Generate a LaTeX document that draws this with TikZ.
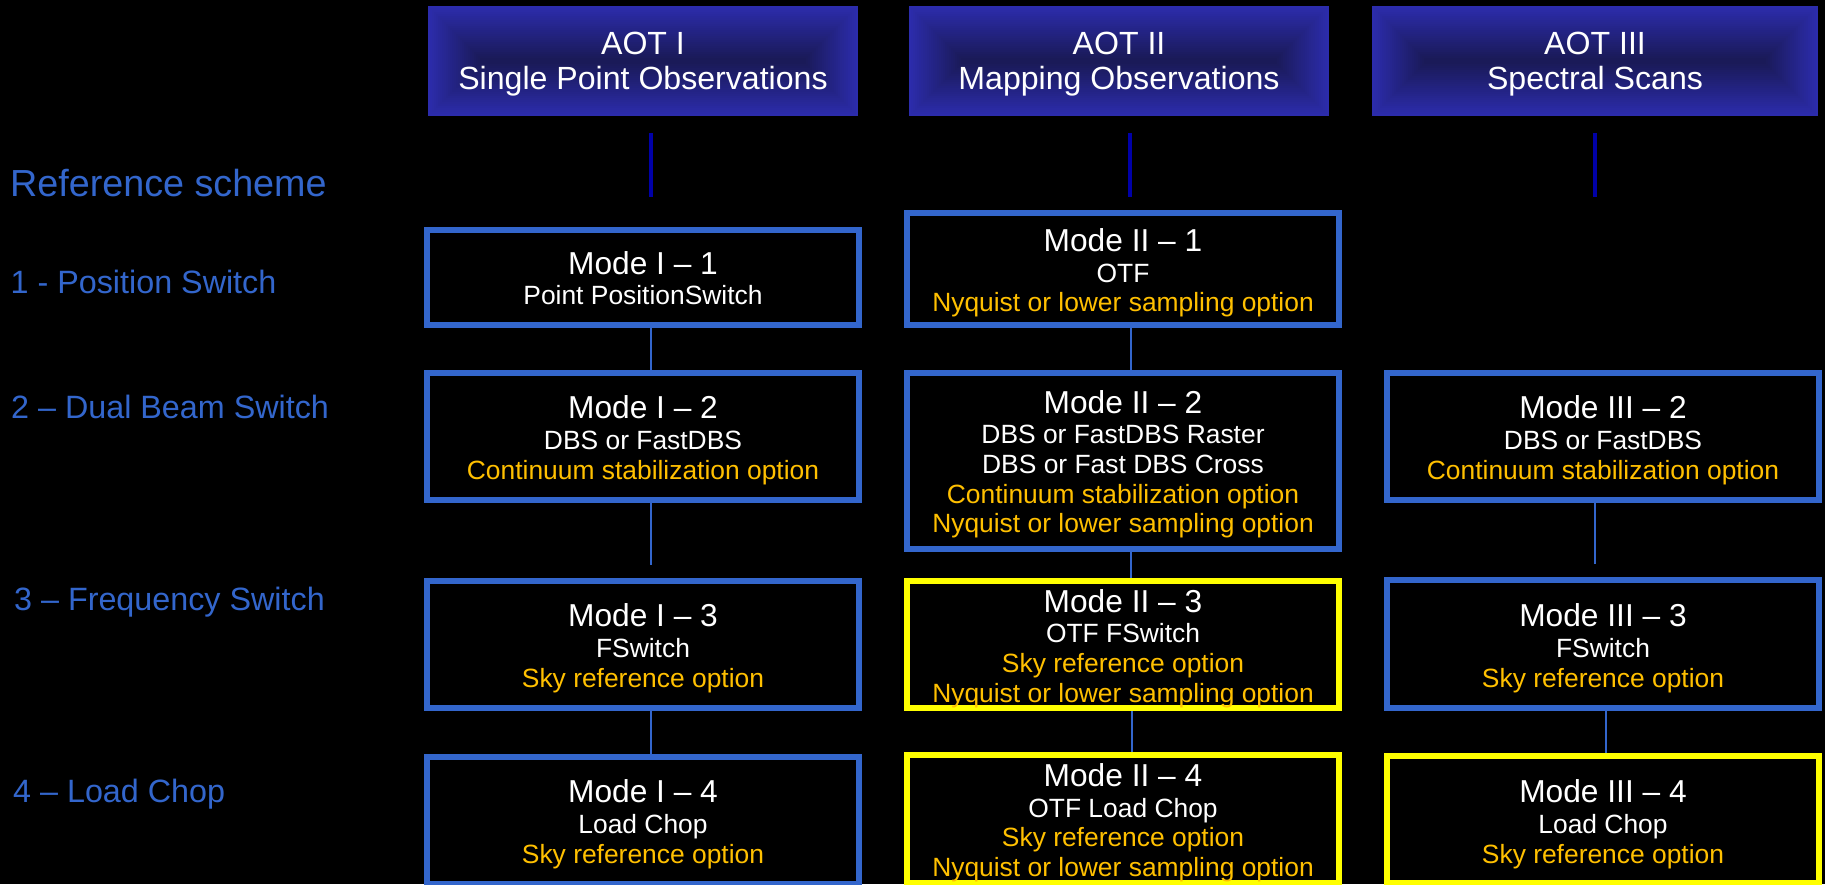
\documentclass[tikz,border=0pt]{standalone}
\usepackage{fontspec}
\setmainfont{Liberation Sans}
\usetikzlibrary{calc}
\definecolor{boxblue}{RGB}{51,102,204}
\definecolor{optorange}{RGB}{255,192,0}
\definecolor{hdredge}{RGB}{44,44,172}
\definecolor{hdrcenter}{RGB}{26,26,88}
\definecolor{stemblue}{RGB}{0,0,168}
\definecolor{markyellow}{RGB}{255,255,0}
\newcommand\modeline[1]{{\fontsize{31.7}{35}\selectfont #1}\\[1pt]}
\newcommand\optline[1]{\textcolor{optorange}{#1}}
\begin{document}
\begin{tikzpicture}[x=1pt,y=-1pt,
  modebox/.style={rectangle, draw=boxblue, line width=6pt, fill=black, minimum width=432pt, inner sep=0pt},
  hilite/.style={modebox, draw=markyellow},
  modetext/.style={text=white, align=center, inner sep=0pt, font=\fontsize{26.4}{29.7}\selectfont},
  hdrbox/.style={rectangle, inner sep=0pt, outer sep=0pt, minimum height=110pt},
  hdrtext/.style={text=white, align=center, inner sep=0pt, font=\fontsize{32.1}{35}\selectfont},
  side/.style={text=boxblue, anchor=base west, inner sep=0pt, font=\fontsize{32.3}{38}\selectfont},
  link/.style={draw=boxblue, line width=2pt},
  stem/.style={draw=stemblue, line width=4pt},
]
\fill[black] (0,0) rectangle (1825,884);
\useasboundingbox (0,0) rectangle (1825,884);

% headers
\node[hdrbox, minimum width=430pt] (h1) at (643,61) {};
\node[hdrbox, minimum width=420pt] (h2) at (1119,61) {};
\node[hdrbox, minimum width=446pt] (h3) at (1595,61) {};
\foreach \h in {h1,h2,h3}{
  \foreach \i in {0,...,26}{
    \pgfmathtruncatemacro\pct{100-\i*100/26}
    \fill[hdredge!\pct!hdrcenter] ($(\h.south west)+(\i*2,-\i*2)$) rectangle ($(\h.north east)+(-\i*2,\i*2)$);
  }
}
\node[hdrtext] (h1t) at (643,64.5) {AOT I\\Single Point Observations};
\node[hdrtext] (h2t) at (1119,64.5) {AOT II\\Mapping Observations};
\node[hdrtext] (h3t) at (1595,64.5) {AOT III\\Spectral Scans};

% stems under headers
\coordinate (s1a) at (651,133); \coordinate (s1b) at (651,197);
\coordinate (s2a) at (1130,133); \coordinate (s2b) at (1130,197);
\coordinate (s3a) at (1595,133); \coordinate (s3b) at (1595,197);
\draw[stem] (s1a) -- (s1b);
\draw[stem] (s2a) -- (s2b);
\draw[stem] (s3a) -- (s3b);

% side labels
\node[side, font=\fontsize{37.7}{44}\selectfont] (refs) at (10,196.7) {Reference scheme};
\node[side] (l1) at (10.5,293) {1 - Position Switch};
\node[side] (l2) at (11,418) {2 – Dual Beam Switch};
\node[side] (l3) at (14,610) {3 – Frequency Switch};
\node[side] (l4) at (13,802) {4 – Load Chop};

% mode boxes
\node[modebox, minimum height=95pt]  (b11) at (643,277.5) {};
\node[modebox, minimum height=127pt] (b12) at (643,436.5) {};
\node[modebox, minimum height=127pt] (b13) at (643,644.5) {};
\node[modebox, minimum height=127pt] (b14) at (643,820.5) {};
\node[modebox, minimum height=112pt] (b21) at (1123,269) {};
\node[modebox, minimum height=176pt] (b22) at (1123,461) {};
\node[hilite,  minimum height=127pt] (b23) at (1123,644.5) {};
\node[hilite,  minimum height=128pt] (b24) at (1123,819) {};
\node[modebox, minimum height=127pt] (b32) at (1603,436.5) {};
\node[modebox, minimum height=128pt] (b33) at (1603,644) {};
\node[hilite,  minimum height=127pt] (b34) at (1603,819.5) {};

% texts
\node[modetext] (t11) at (643,278) {\modeline{Mode I – 1}Point PositionSwitch};
\node[modetext] (t12) at (643,440.4) {\modeline{Mode I – 2}DBS or FastDBS\\\optline{Continuum stabilization option}};
\node[modetext] (t13) at (643,648.3) {\modeline{Mode I – 3}FSwitch\\\optline{Sky reference option}};
\node[modetext] (t14) at (643,824.3) {\modeline{Mode I – 4}Load Chop\\\optline{Sky reference option}};
\node[modetext] (t21) at (1123,272.9) {\modeline{Mode II – 1}OTF\\\optline{Nyquist or lower sampling option}};
\node[modetext] (t22) at (1123,464.3) {\modeline{Mode II – 2}DBS or FastDBS Raster\\DBS or Fast DBS Cross\\\optline{Continuum stabilization option}\\\optline{Nyquist or lower sampling option}};
\node[modetext] (t23) at (1123,648.3) {\modeline{Mode II – 3}OTF FSwitch\\\optline{Sky reference option}\\\optline{Nyquist or lower sampling option}};
\node[modetext] (t24) at (1123,822.8) {\modeline{Mode II – 4}OTF Load Chop\\\optline{Sky reference option}\\\optline{Nyquist or lower sampling option}};
\node[modetext] (t32) at (1603,440.4) {\modeline{Mode III – 2}DBS or FastDBS\\\optline{Continuum stabilization option}};
\node[modetext] (t33) at (1603,648.3) {\modeline{Mode III – 3}FSwitch\\\optline{Sky reference option}};
\node[modetext] (t34) at (1603,824.3) {\modeline{Mode III – 4}Load Chop\\\optline{Sky reference option}};

% connectors
\coordinate (c1) at (651,0);
\coordinate (c2) at (1131,0);
\coordinate (c2b) at (1132,0);
\coordinate (c3) at (1595,0);
\coordinate (c3b) at (1606,0);
\coordinate (e12) at (651,565);
\coordinate (e32) at (1595,564);
\draw[link] (b11.south -| c1) -- (b12.north -| c1);
\draw[link] (b12.south -| c1) -- (e12);
\draw[link] (b13.south -| c1) -- (b14.north -| c1);
\draw[link] (b21.south -| c2) -- (b22.north -| c2);
\draw[link] (b22.south -| c2) -- (b23.north -| c2);
\draw[link] (b23.south -| c2b) -- (b24.north -| c2b);
\draw[link] (b32.south -| c3) -- (e32);
\draw[link] (b33.south -| c3b) -- (b34.north -| c3b);
\end{tikzpicture}
\end{document}
